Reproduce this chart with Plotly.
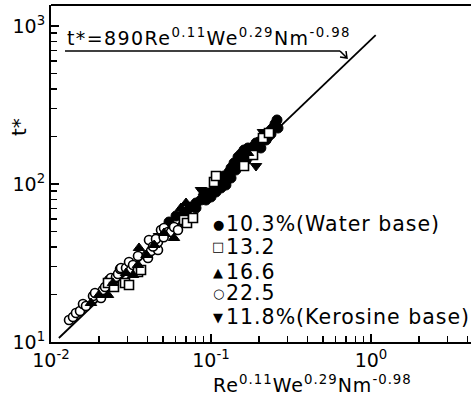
import plotly.graph_objects as go

# ---------------- data ----------------
# abscissa: Re^0.11 We^0.29 Nm^-0.98 ; ordinate: t*
filled_x = [0.05464, 0.06043, 0.0678, 0.075, 0.08058, 0.0866, 0.09044, 0.09578, 0.1, 0.1044,
            0.1106, 0.1155, 0.1122, 0.1206, 0.1259, 0.1296, 0.1334, 0.1393, 0.1475, 0.154,
            0.1608, 0.1703, 0.1831, 0.1911, 0.1995, 0.2113, 0.2271, 0.2371, 0.2441, 0.2512,
            0.2623, 0.2585,
            0.0698, 0.08058, 0.0931, 0.1075, 0.124, 0.143, 0.154, 0.1778, 0.205, 0.221,
            0.2371, 0.1334, 0.166]
filled_y = [57.48, 62.74, 66.5, 71.53, 75.8, 79.2, 83.97, 87.7, 82.75, 91.62,
            97.1, 94.35, 109.1, 112.4, 106.0, 119.1, 126.3, 135.8, 148.2, 154.9,
            164.1, 169.0, 171.5, 181.8, 184.5, 189.9, 198.4, 207.3, 226.1, 239.8,
            226.1, 254.2,
            66.5, 70.48, 79.2, 89.0, 98.55, 122.6, 137.8, 152.6, 169.0, 189.9,
            219.7, 109.1, 141.9]

square_x = [0.02271, 0.02475, 0.02901, 0.03073, 0.03497, 0.03652, 0.0678, 0.07079, 0.07718,
            0.1044, 0.1075, 0.1608, 0.1831, 0.2113, 0.2304]
square_y = [23.62, 22.29, 23.62, 22.96, 27.73, 28.56, 59.18, 56.64, 60.93,
            102.9, 112.4, 130.0, 152.6, 195.5, 210.3]

tri_x = [0.01778, 0.01995, 0.02271, 0.0244, 0.02943, 0.03255, 0.03497, 0.03548, 0.05083,
         0.05871, 0.06494, 0.0698, 0.09044, 0.1703, 0.04417, 0.0395]
tri_y = [17.65, 19.84, 19.84, 23.62, 27.34, 26.56, 30.72, 39.36, 48.97,
         45.52, 70.48, 75.8, 89.0, 157.1, 41.11, 35.54]

circle_x = [0.01296, 0.01372, 0.01432, 0.01518, 0.01585, 0.01654, 0.0183, 0.01884, 0.02054,
            0.02113, 0.02176, 0.02304, 0.02371, 0.02548, 0.02623, 0.027, 0.02738, 0.02943,
            0.03073, 0.03162, 0.03255, 0.03497, 0.03981, 0.04039, 0.04097, 0.04217, 0.04664,
            0.04664, 0.0487, 0.05083, 0.05384, 0.05623, 0.05871, 0.06218, 0.0678,
            0.0434, 0.0453, 0.0506]
circle_y = [13.78, 14.39, 15.26, 15.71, 17.4, 16.9, 19.55, 20.42, 18.99,
            21.34, 22.29, 24.69, 25.42, 25.79, 26.95, 28.97, 29.4, 29.4,
            32.09, 28.56, 30.72, 35.03, 35.54, 34.01, 44.22, 37.66, 38.22,
            42.96, 51.16, 52.67, 49.69, 49.69, 53.44, 51.16, 57.48,
            40.2, 44.9, 46.0]

inv_x = [0.04732, 0.07286, 0.0866, 0.1189, 0.1778, 0.1911, 0.2113]
inv_y = [46.87, 72.58, 91.62, 106.0, 164.1, 130.0, 213.4]

fit_x = [0.0112, 1.07]
fit_y = [10.6, 875.0]

x_tickvals = [0.01, 0.1, 1]
x_ticktext = ["10<sup>-2</sup>", "10<sup>-1</sup>", "10<sup>0</sup>"]
y_tickvals = [10, 100, 1000]
y_ticktext = ["10<sup>1</sup>", "10<sup>2</sup>", "10<sup>3</sup>"]

legend_labels = ["10.3%(Water base)", "13.2", "16.6", "22.5", "11.8%(Kerosine base)"]
legend_glyphs = ["●", "□", "▲", "○", "▼"]

equation_text = "t*=890Re<sup>0.11</sup>We<sup>0.29</sup>Nm<sup>-0.98</sup>"
x_title = "Re<sup>0.11</sup>We<sup>0.29</sup>Nm<sup>-0.98</sup>"
y_title = "t*"

# ---------------- figure ----------------
FONT = "DejaVu Sans"
fig = go.Figure()

fig.add_trace(go.Scatter(x=fit_x, y=fit_y, mode="lines",
                         line=dict(color="black", width=1.8), hoverinfo="skip"))

open_style = dict(color="white", line=dict(color="black", width=1.6))
fig.add_trace(go.Scatter(x=filled_x, y=filled_y, mode="markers",
                         marker=dict(symbol="circle", size=10, color="black",
                                     line=dict(color="black", width=1))))
fig.add_trace(go.Scatter(x=inv_x, y=inv_y, mode="markers",
                         marker=dict(symbol="triangle-down", size=10, color="black",
                                     line=dict(color="black", width=1))))
fig.add_trace(go.Scatter(x=circle_x, y=circle_y, mode="markers",
                         marker=dict(symbol="circle", size=9, **open_style)))
fig.add_trace(go.Scatter(x=square_x, y=square_y, mode="markers",
                         marker=dict(symbol="square", size=9, **open_style)))
fig.add_trace(go.Scatter(x=tri_x, y=tri_y, mode="markers",
                         marker=dict(symbol="triangle-up", size=10, color="black",
                                     line=dict(color="black", width=1))))

# the figure runs slightly past the 471 px window on the right, like the cropped scan
W, H = 480, 402
L, R, T, B = 51, 0, 5, 60
pw, ph = W - L - R, H - T - B

def px(xp):
    return (xp - L) / pw

def py(yp):
    return (H - B - yp) / ph

# legend: glyph + label per line
legend_y = [224, 247, 272, 293, 317]
for g, lab, yy in zip(legend_glyphs, legend_labels, legend_y):
    fig.add_annotation(xref="paper", yref="paper", x=px(218), y=py(yy), xanchor="center",
                       yanchor="middle", text=g, showarrow=False,
                       font=dict(family=FONT, size=13, color="black"))
    fig.add_annotation(xref="paper", yref="paper", x=px(224), y=py(yy), xanchor="left",
                       yanchor="middle", text=f'<span style="letter-spacing:1px">{lab}</span>',
                       showarrow=False, font=dict(family=FONT, size=20.5, color="black"))

# equation with pointer
fig.add_annotation(xref="paper", yref="paper", x=px(65), y=py(51), xanchor="left", yanchor="bottom",
                   text=f'<span style="letter-spacing:1.4px">{equation_text}</span>',
                   showarrow=False, font=dict(family=FONT, size=19, color="black"))
fig.add_shape(type="line", xref="paper", yref="paper", x0=px(65), x1=px(340), y0=py(51), y1=py(51),
              line=dict(color="black", width=1.5))
fig.add_shape(type="path", xref="paper", yref="paper",
              path=f"M {px(340)},{py(51)} L {px(347)},{py(58)} M {px(340)},{py(57)} L {px(347)},{py(58)} L {px(346)},{py(51)}",
              line=dict(color="black", width=1.5))

# top frame line
fig.add_shape(type="line", xref="paper", yref="paper", x0=0, x1=1, y0=1, y1=1,
              line=dict(color="black", width=2))

# axis titles
fig.add_annotation(xref="paper", yref="paper", x=px(312), y=py(384), xanchor="center", yanchor="middle",
                   text=f'<span style="letter-spacing:1px">{x_title}</span>', showarrow=False,
                   font=dict(family=FONT, size=19, color="black"))
fig.add_annotation(xref="paper", yref="paper", x=px(19), y=py(127), xanchor="center", yanchor="middle",
                   text=y_title, textangle=-90, showarrow=False,
                   font=dict(family=FONT, size=20, color="black"))

x_minor = [m * 10 ** e for e in (-2, -1, 0) for m in range(2, 10)]
y_minor = [m * 10 ** e for e in (1, 2) for m in range(2, 10)]

fig.update_layout(
    width=W, height=H, margin=dict(l=L, r=R, t=T, b=B, autoexpand=False),
    paper_bgcolor="white", plot_bgcolor="white", showlegend=False, hovermode=False,
    font=dict(family=FONT, color="black"),
    xaxis=dict(type="log", range=[-2, -2 + pw / 160], showgrid=False, zeroline=False,
               automargin=False,
               showline=True, linecolor="black", linewidth=2, mirror=False,
               ticks="inside", ticklen=8, tickwidth=1.5, tickcolor="black",
               tickvals=x_tickvals, ticktext=x_ticktext,
               tickfont=dict(family=FONT, size=19, color="black"),
               minor=dict(tickvals=x_minor, ticks="inside", ticklen=6, tickwidth=1.5,
                          tickcolor="black", showgrid=False)),
    yaxis=dict(type="log", range=[1, 1 + ph / 158], showgrid=False, zeroline=False,
               automargin=False,
               showline=True, linecolor="black", linewidth=2, mirror=False,
               ticks="inside", ticklen=8, tickwidth=1.5, tickcolor="black",
               tickvals=y_tickvals, ticktext=y_ticktext,
               tickfont=dict(family=FONT, size=19, color="black"),
               minor=dict(tickvals=y_minor, ticks="inside", ticklen=6, tickwidth=1.5,
                          tickcolor="black", showgrid=False)),
)

fig.write_html("out.html", config={"displayModeBar": False, "staticPlot": True},
               post_script="document.body.style.margin='0';document.body.style.overflow='hidden';")
